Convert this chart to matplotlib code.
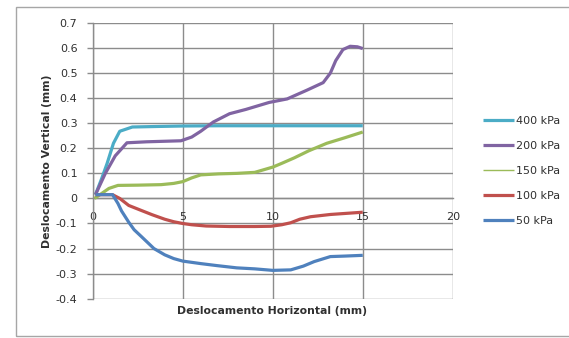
#!/usr/bin/env python3
"""
Deslocamento vertical x deslocamento horizontal para cada tensão normal.

Uso:
  python plot.py
"""

from __future__ import annotations

import matplotlib

matplotlib.use("Agg")
import matplotlib.pyplot as plt
from matplotlib.patches import Rectangle


OUTPUT = "out.png"

LABELS = ["400 kPa", "200 kPa", "150 kPa", "100 kPa", "50 kPa"]

# Curvas (mm).
X_400 = [0.15, 0.5, 0.8, 1.15, 1.5, 2.2, 3.5, 5.0, 7.0, 15.0]
Y_400 = [0.015, 0.08, 0.14, 0.22, 0.268, 0.285, 0.287, 0.289, 0.29, 0.29]

X_200 = [0.15, 0.7, 1.25, 1.9, 3.0, 4.9, 5.5, 6.0, 6.7, 7.6, 8.5, 9.8,
         10.8, 11.9, 12.8, 13.2, 13.5, 13.9, 14.3, 14.7, 15.0]
Y_200 = [0.015, 0.10, 0.17, 0.222, 0.226, 0.23, 0.245, 0.268, 0.305, 0.338,
         0.355, 0.383, 0.397, 0.432, 0.462, 0.50, 0.55, 0.594, 0.607, 0.605, 0.598]

X_150 = [0.1, 0.5, 0.9, 1.4, 2.5, 3.8, 4.5, 5.0, 5.5, 6.0, 7.0, 8.0, 9.0,
         10.0, 10.5, 11.2, 12.0, 13.0, 14.0, 15.0]
Y_150 = [0.0, 0.02, 0.04, 0.052, 0.053, 0.055, 0.06, 0.067, 0.082, 0.094,
         0.098, 0.1, 0.104, 0.125, 0.14, 0.162, 0.19, 0.22, 0.242, 0.265]

X_100 = [0.15, 1.1, 1.5, 2.0, 2.7, 3.3, 4.0, 4.5, 5.0, 5.5, 6.3, 7.6, 9.0,
         9.9, 10.5, 11.0, 11.5, 12.1, 13.2, 14.0, 15.0]
Y_100 = [0.015, 0.015, 0.0, -0.028, -0.048, -0.065, -0.083, -0.093, -0.1,
         -0.105, -0.11, -0.112, -0.112, -0.111, -0.105, -0.097, -0.083,
         -0.073, -0.064, -0.06, -0.055]

X_50 = [0.15, 1.1, 1.4, 1.6, 2.0, 2.3, 2.7, 3.4, 4.0, 4.5, 5.0, 6.0, 6.9,
        8.0, 9.0, 10.0, 11.0, 11.7, 12.3, 13.2, 14.0, 15.0]
Y_50 = [0.015, 0.015, -0.02, -0.05, -0.095, -0.125, -0.152, -0.2, -0.225,
        -0.24, -0.25, -0.26, -0.268, -0.277, -0.281, -0.287, -0.285, -0.27,
        -0.252, -0.232, -0.23, -0.227]

X_TICKS = [0, 5, 10, 15, 20]
Y_TICKS = [0.7, 0.6, 0.5, 0.4, 0.3, 0.2, 0.1, 0, -0.1, -0.2, -0.3, -0.4]

COLORS = ["#4BACC6", "#8064A2", "#9BBB59", "#C0504D", "#4F81BD"]
GRID = "#8C8C8C"
TEXT = "#303030"


def main() -> int:
    plt.rcParams["font.family"] = ["DejaVu Sans"]
    plt.rcParams["axes.unicode_minus"] = False

    fig = plt.figure(figsize=(5.69, 3.38), dpi=100)
    ax = fig.add_axes([0.163, 0.1163, 0.6327, 0.8157])

    series = [(X_400, Y_400), (X_200, Y_200), (X_150, Y_150),
              (X_100, Y_100), (X_50, Y_50)]
    handles = []
    for (xs, ys), color, label in zip(series, COLORS, LABELS):
        (line,) = ax.plot(xs, ys, color=color, linewidth=2.3, label=label,
                          solid_capstyle="butt", zorder=3)
        handles.append(line)

    ax.set_xlim(0, 20)
    ax.set_ylim(-0.4, 0.7)
    ax.set_xticks(X_TICKS)
    ax.set_yticks(Y_TICKS)
    ax.set_yticklabels([f"{v:g}" for v in Y_TICKS])
    ax.grid(True, color=GRID, linewidth=1.0, zorder=0)
    ax.set_axisbelow(True)

    # Eixo x cruza em y = 0, como no Excel.
    ax.spines["bottom"].set_position(("data", 0))
    ax.spines["top"].set_visible(False)
    ax.spines["right"].set_visible(False)
    for side in ["bottom", "left"]:
        ax.spines[side].set_color(GRID)
        ax.spines[side].set_linewidth(1.0)

    ax.tick_params(axis="x", length=0, pad=9.5, labelsize=8, labelcolor=TEXT)
    ax.tick_params(axis="y", length=4, width=1.0, color=GRID, pad=7,
                   labelsize=8, labelcolor=TEXT)

    fig.text(0.478, 0.079, "Deslocamento Horizontal (mm)", ha="center",
             va="center", fontsize=7.8, fontweight="bold", color=TEXT)
    fig.text(0.083, 0.524, "Deslocamento Vertical (mm)", ha="center",
             va="center", rotation=90, fontsize=7.8, fontweight="bold",
             color=TEXT)

    leg = fig.legend(handles=handles, loc="center left",
                     bbox_to_anchor=(0.849, 0.493), frameon=False,
                     fontsize=8, handlelength=2.8, handletextpad=0.2,
                     labelspacing=1.35, borderpad=0, borderaxespad=0)
    for text in leg.get_texts():
        text.set_color(TEXT)
    leg.get_lines()[2].set_linewidth(1.0)

    # Moldura externa da área do gráfico.
    fig.patches.append(Rectangle((0.028, 0.006), 1.1, 0.973,
                                 transform=fig.transFigure, fill=False,
                                 edgecolor="#A6A6A6", linewidth=1.0))

    fig.savefig(OUTPUT, dpi=100)
    plt.close(fig)
    return 0


if __name__ == "__main__":
    raise SystemExit(main())
